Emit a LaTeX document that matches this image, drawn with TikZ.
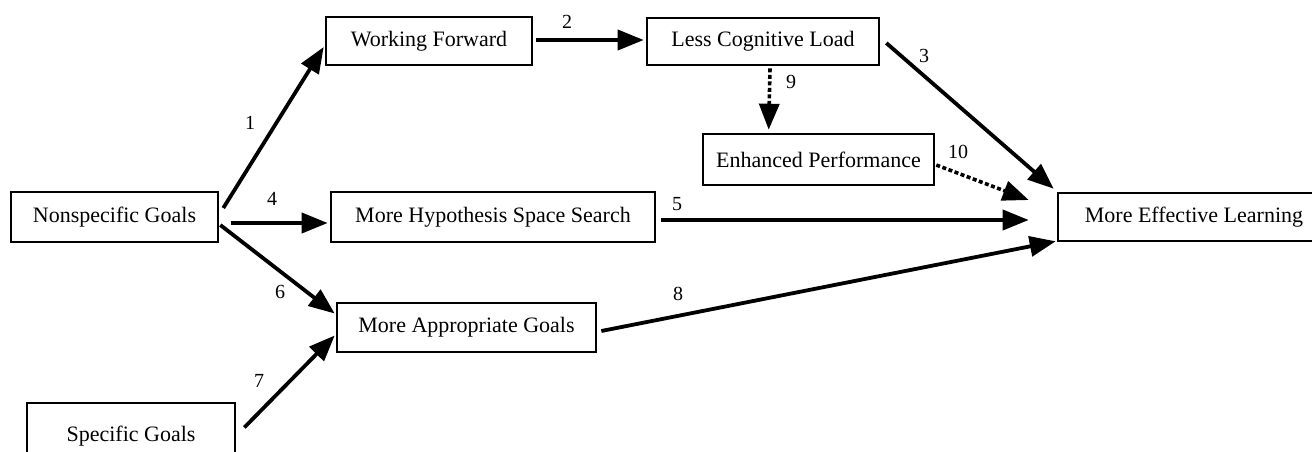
\documentclass[tikz,border=0pt]{standalone}
\usepackage{fontspec}
\setmainfont{Liberation Serif}
\usetikzlibrary{arrows.meta}
\begin{document}
\begin{tikzpicture}[x=1pt,y=-1pt,
  box/.style={draw,line width=2.6pt,rectangle,inner sep=0pt,font=\fontsize{22}{26}\selectfont},
  lab/.style={inner sep=0pt,font=\fontsize{20}{24}\selectfont},
  conn/.style={line width=3.8pt,-{Triangle[length=26pt,width=20pt]}},
  dconn/.style={line width=3.6pt,dash pattern=on 4pt off 2.5pt,-{Triangle[length=26pt,width=20pt]}}]
\useasboundingbox (0,0) rectangle (1312,451);
\node[box,minimum width=207pt,minimum height=50pt] (ns) at (114.5,217) {Nonspecific Goals};
\node[box,minimum width=206pt,minimum height=48pt] (wf) at (429,41) {Working Forward};
\node[box,minimum width=232pt,minimum height=47pt] (lcl) at (763,41.5) {Less Cognitive Load};
\node[box,minimum width=231pt,minimum height=51pt] (ep) at (818.5,159.5) {Enhanced Performance};
\node[box,minimum width=324pt,minimum height=50pt] (hss) at (493,217) {More Hypothesis Space Search};
\node[box,minimum width=272pt,minimum height=48pt] (mel) at (1194,217) {More Effective Learning};
\node[box,minimum width=259pt,minimum height=49pt] (mag) at (466.5,327.5) {More Appropriate Goals};
\node[box,minimum width=208pt,minimum height=67pt] (sg) at (131,436.5) {Specific Goals};

\draw[conn] ([shift={(4,-9)}]ns.east) -- ([shift={(-1,6)}]wf.west);
\draw[conn] ([shift={(12,6)}]ns.east) -- ([shift={(-2,6)}]hss.west);
\draw[conn] ([shift={(1,8)}]ns.east) -- ([shift={(-1,-14)}]mag.west);
\draw[conn] ([shift={(8,-9)}]sg.east) -- ([shift={(-1,8)}]mag.west);
\draw[conn] ([shift={(3,-1)}]wf.east) -- ([shift={(-2,-1.5)}]lcl.west);
\draw[conn] ([shift={(6,1.5)}]lcl.east) -- ([shift={(-3,-3)}]mel.north west);
\draw[dconn] ([shift={(7,2)}]lcl.south) -- ([shift={(67,-3)}]ep.north west);
\draw[dconn] ([shift={(1,5.5)}]ep.east) -- ([shift={(-28,-17)}]mel.west);
\draw[conn] ([shift={(5,3)}]hss.east) -- ([shift={(-28,3)}]mel.west);
\draw[conn] ([shift={(4,3.5)}]mag.east) -- ([shift={(-1,-1)}]mel.south west);

\node[lab] (l1) at (250,123) {1};
\node[lab] (l4) at (272,199) {4};
\node[lab] (l6) at (280,292) {6};
\node[lab] (l7) at (259,381) {7};
\node[lab] (l2) at (567,22) {2};
\node[lab] (l3) at (924,56) {3};
\node[lab] (l9) at (791,82) {9};
\node[lab] (l10) at (958,152) {10};
\node[lab] (l5) at (677,204) {5};
\node[lab] (l8) at (678,294) {8};
\end{tikzpicture}
\end{document}
